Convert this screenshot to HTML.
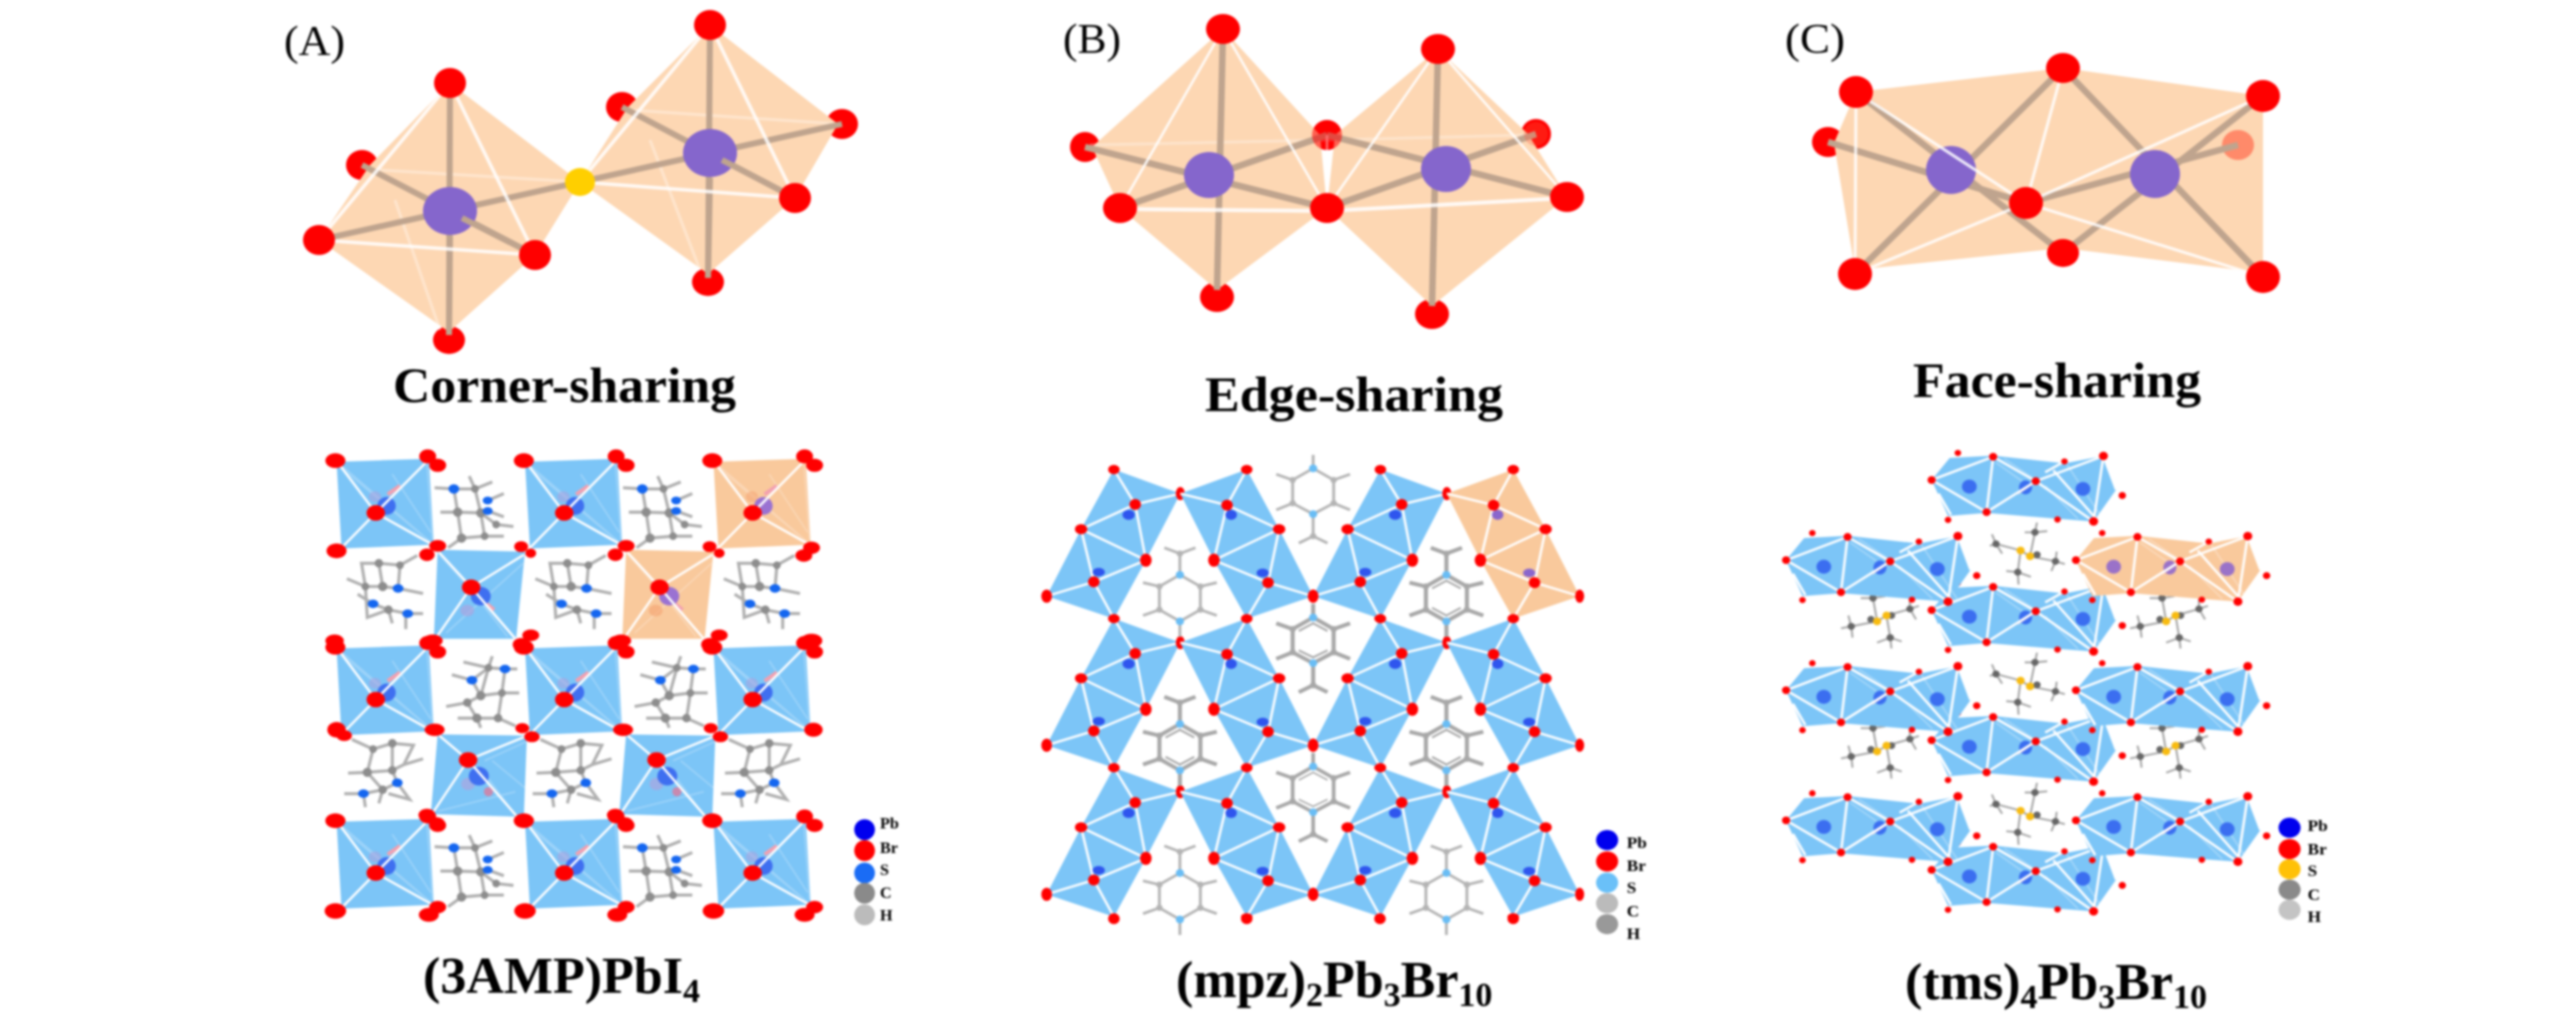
<!DOCTYPE html>
<html><head><meta charset="utf-8">
<style>
html,body{margin:0;padding:0;background:#fff;width:2567px;height:1024px;overflow:hidden}
svg{display:block;filter:blur(1px)}
text{font-family:"Liberation Serif",serif;fill:#000}
.l{font-weight:bold;font-size:50px}
.f{font-weight:bold;font-size:52px}
.p{font-size:42px}
.k{font-weight:bold;font-size:42px}
</style></head><body>
<svg xmlns="http://www.w3.org/2000/svg" width="2567" height="1024" viewBox="0 0 2567 1024">
<defs>
<g id="ua1">
<polygon points="95,108 335,100 348,322 108,332" fill="currentColor"/>
<path d="M105,115 L345,320 M115,130 L320,300 M330,110 L345,310 M240,140 L340,290" stroke="#fff" stroke-opacity=".25" stroke-width="4" fill="none"/>
<ellipse cx="195" cy="198" rx="16" ry="14" fill="var(--a,#a9a5e0)" opacity=".6"/>
<path d="M228,192 L260,170" stroke="#f2a0b0" stroke-width="10"/>
<ellipse cx="225" cy="222" rx="24" ry="23" fill="var(--b,#3f6ff0)"/>
<path d="M100,112 L197,240 L332,105 M197,240 L345,322 M197,240 L108,330" stroke="#fff" stroke-width="6" fill="none"/>
<ellipse cx="197" cy="240" rx="24" ry="20" fill="#f00"/>
<ellipse cx="92" cy="105" rx="26" ry="19" fill="#f00"/>
<ellipse cx="332" cy="94" rx="22" ry="18" fill="#f00"/><ellipse cx="358" cy="117" rx="22" ry="17" fill="#f00"/>
</g>
<g id="ua2">
<polygon points="358,335 585,340 562,565 348,565" fill="currentColor"/>
<path d="M360,345 L555,560 M380,550 L580,370 M470,470 L540,560" stroke="#fff" stroke-opacity=".25" stroke-width="4" fill="none"/>
<ellipse cx="435" cy="492" rx="18" ry="15" fill="var(--a,#a9a5e0)" opacity=".7"/>
<path d="M470,462 L505,490" stroke="#f2a0b0" stroke-width="9"/>
<ellipse cx="470" cy="455" rx="26" ry="24" fill="var(--b,#3f6ff0)"/>
<path d="M360,340 L445,432 L582,348 M445,432 L560,565 M445,432 L352,565" stroke="#fff" stroke-width="6" fill="none"/>
<ellipse cx="445" cy="432" rx="24" ry="20" fill="#f00"/>
<ellipse cx="575" cy="327" rx="18" ry="14" fill="#f00"/><ellipse cx="600" cy="344" rx="14" ry="12" fill="#f00"/>
<ellipse cx="358" cy="325" rx="22" ry="15" fill="#f00"/><ellipse cx="330" cy="348" rx="20" ry="16" fill="#f00"/>
<ellipse cx="345" cy="570" rx="26" ry="16" fill="#f00"/>
<ellipse cx="600" cy="556" rx="22" ry="15" fill="#f00"/><ellipse cx="575" cy="580" rx="22" ry="17" fill="#f00"/>
</g>
<g id="ua4">
<polygon points="358,812 590,815 582,1025 340,1018" fill="currentColor"/>
<path d="M470,900 L560,1020 M480,880 L590,830 M360,1010 L560,960 M500,880 L585,950" stroke="#fff" stroke-opacity=".25" stroke-width="4" fill="none"/>
<ellipse cx="437" cy="940" rx="18" ry="16" fill="#a9a5e0" opacity=".7"/>
<ellipse cx="490" cy="960" rx="12" ry="12" fill="#e87090" opacity=".7"/>
<ellipse cx="465" cy="920" rx="26" ry="24" fill="#3f6ff0"/>
<path d="M362,815 L437,878 L585,818 M437,878 L565,1025 M437,878 L345,1015" stroke="#fff" stroke-width="6" fill="none"/>
<ellipse cx="437" cy="878" rx="24" ry="20" fill="#f00"/>
<ellipse cx="350" cy="800" rx="26" ry="16" fill="#f00"/>
<ellipse cx="578" cy="796" rx="18" ry="13" fill="#f00"/><ellipse cx="603" cy="818" rx="20" ry="14" fill="#f00"/>
<ellipse cx="330" cy="1020" rx="22" ry="16" fill="#f00"/><ellipse cx="355" cy="1042" rx="22" ry="16" fill="#f00"/>
<ellipse cx="582" cy="1035" rx="26" ry="18" fill="#f00"/>
</g>
<g id="ma1" stroke="#b0b0b0" stroke-width="8" fill="none">
<path d="M350,175 L400,178 L455,178 L500,160 M455,178 L440,145 M400,178 L410,238 L470,240 L510,270 L555,275 M365,238 L410,238 L420,305 L480,300 L530,300 M470,240 L455,178 M470,240 L480,300 M420,305 L385,330 M488,208 L530,190 M488,235 L530,250"/>
<g fill="#8d8d8d" stroke="none"><circle cx="455" cy="178" r="10"/><circle cx="410" cy="238" r="12"/><circle cx="470" cy="240" r="12"/><circle cx="510" cy="270" r="10"/><circle cx="420" cy="305" r="12"/><circle cx="480" cy="300" r="10"/></g>
<g fill="#1466f0" stroke="none"><ellipse cx="400" cy="178" rx="14" ry="12"/><ellipse cx="488" cy="208" rx="13" ry="10"/><ellipse cx="488" cy="235" rx="13" ry="10"/></g>
</g>
<g id="ma2" stroke="#b0b0b0" stroke-width="8" fill="none">
<path d="M122,410 L170,430 L160,370 L205,370 L260,375 L305,350 M205,370 L215,430 L170,430 L175,510 L230,490 L280,500 L320,500 M260,375 L255,435 L320,448 M215,430 L255,435 M230,490 L190,475 L150,450 M230,490 L240,525 M275,500 L275,540"/>
<g fill="#8d8d8d" stroke="none"><circle cx="205" cy="370" r="11"/><circle cx="260" cy="375" r="10"/><circle cx="215" cy="430" r="12"/><circle cx="170" cy="430" r="10"/><circle cx="230" cy="490" r="11"/></g>
<g fill="#1466f0" stroke="none"><ellipse cx="255" cy="435" rx="14" ry="11"/><ellipse cx="190" cy="475" rx="14" ry="11"/><ellipse cx="280" cy="500" rx="14" ry="11"/></g>
</g>
<g id="ma3" stroke="#b0b0b0" stroke-width="8" fill="none">
<path d="M425,625 L490,640 L533,643 L565,643 M395,658 L447,672 L490,640 L470,712 L435,730 L380,740 M447,672 L470,712 L525,705 L570,705 M490,640 L500,610 M525,705 L515,770 L460,770 L410,770 M435,730 L460,770 L470,795 M515,770 L560,790 M533,643 L525,705"/>
<g fill="#8d8d8d" stroke="none"><circle cx="490" cy="640" r="10"/><circle cx="470" cy="712" r="12"/><circle cx="525" cy="705" r="10"/><circle cx="435" cy="730" r="11"/><circle cx="460" cy="770" r="12"/><circle cx="515" cy="770" r="11"/></g>
<g fill="#1466f0" stroke="none"><ellipse cx="533" cy="643" rx="14" ry="11"/><ellipse cx="447" cy="672" rx="14" ry="11"/></g>
</g>
<g id="ma4" stroke="#b0b0b0" stroke-width="8" fill="none">
<path d="M135,825 L190,850 L240,835 L295,840 L270,890 L320,875 M190,850 L175,910 L125,912 M175,910 L240,905 L270,890 M240,835 L240,905 L253,937 L215,955 L165,965 L115,965 M175,910 L215,955 L205,990 M253,937 L285,980 L230,965 M165,965 L170,1000"/>
<g fill="#8d8d8d" stroke="none"><circle cx="190" cy="850" r="10"/><circle cx="240" cy="835" r="11"/><circle cx="175" cy="910" r="12"/><circle cx="240" cy="905" r="11"/><circle cx="215" cy="955" r="11"/></g>
<g fill="#1466f0" stroke="none"><ellipse cx="253" cy="937" rx="14" ry="11"/><ellipse cx="165" cy="965" rx="14" ry="11"/></g>
</g>

<g id="bl">
<polygon points="229,128 391,190 307,362 229,513 65,455 149,282" fill="currentColor"/>
<path d="M229,128 L281,218 L391,190 M149,282 L281,218 L307,362 M149,282 L307,362 M149,282 L180,418 L307,362 M65,455 L180,418 L229,513" stroke="#fff" stroke-width="6" fill="none"/>
<ellipse cx="265" cy="245" rx="15" ry="13" fill="var(--b,#2f55ee)"/><ellipse cx="192" cy="393" rx="15" ry="11" fill="var(--b,#2f55ee)"/>
<g fill="#f00"><ellipse cx="229" cy="128" rx="14" ry="12"/><ellipse cx="281" cy="218" rx="14" ry="14"/><ellipse cx="149" cy="282" rx="15" ry="13"/><ellipse cx="307" cy="362" rx="14" ry="17"/><ellipse cx="180" cy="418" rx="14" ry="14"/><ellipse cx="65" cy="455" rx="13" ry="17"/><ellipse cx="391" cy="190" rx="11" ry="17"/></g>
</g>
<g id="br">
<polygon points="553,128 632,282 715,455 553,513 473,362 391,190" fill="currentColor"/>
<path d="M553,128 L505,220 L391,190 M632,282 L505,220 L473,362 M632,282 L473,362 M632,282 L605,420 L473,362 M715,455 L605,420 L553,513" stroke="#fff" stroke-width="6" fill="none"/>
<ellipse cx="515" cy="245" rx="14" ry="13" fill="var(--b,#2f55ee)"/><ellipse cx="592" cy="395" rx="15" ry="11" fill="var(--b,#2f55ee)"/>
<g fill="#f00"><ellipse cx="553" cy="128" rx="14" ry="12"/><ellipse cx="505" cy="220" rx="14" ry="14"/><ellipse cx="632" cy="282" rx="15" ry="13"/><ellipse cx="473" cy="362" rx="14" ry="17"/><ellipse cx="605" cy="420" rx="14" ry="14"/><ellipse cx="715" cy="455" rx="11" ry="17"/><ellipse cx="553" cy="513" rx="14" ry="9"/></g>
</g>
<g id="pu">
<path d="M715,125 L765,155 L765,215 L715,243 L665,215 L665,155 Z M715,125 L715,90 M765,155 L805,140 M665,155 L625,140 M765,215 L805,232 M665,215 L625,232 M715,243 L715,300 L680,318 M715,300 L750,318" fill="none" stroke="currentColor" stroke-width="var(--w,7)"/>
<path d="M680,160 L715,140 L750,160 M680,210 L715,228 L750,210" fill="none" stroke="currentColor" stroke-width="var(--i,0)"/>
<g fill="currentColor"><circle cx="765" cy="155" r="8"/><circle cx="765" cy="215" r="8"/><circle cx="665" cy="215" r="8"/><circle cx="665" cy="155" r="8"/><circle cx="715" cy="300" r="8"/></g>
<circle cx="715" cy="125" r="10" fill="#69bdf5"/><circle cx="715" cy="243" r="10" fill="#69bdf5"/>
</g>
<g id="pd">
<path d="M390,520 L440,490 L440,430 L390,400 L340,430 L340,490 Z M390,520 L390,560 M440,490 L480,505 M340,490 L300,505 M440,430 L480,420 M340,430 L300,420 M390,400 L390,345 L352,330 M390,345 L428,330" fill="none" stroke="currentColor" stroke-width="var(--w,7)"/>
<path d="M355,485 L390,505 L425,485 M355,435 L390,415 L425,435" fill="none" stroke="currentColor" stroke-width="var(--i,0)"/>
<g fill="currentColor"><circle cx="440" cy="490" r="8"/><circle cx="440" cy="430" r="8"/><circle cx="340" cy="430" r="8"/><circle cx="340" cy="490" r="8"/><circle cx="390" cy="345" r="8"/></g>
<circle cx="390" cy="400" r="10" fill="#69bdf5"/><circle cx="390" cy="520" r="10" fill="#69bdf5"/>
</g>

<g id="tr">
<polygon points="443,155 487,98 593,92 767,112 862,93 893,180 838,262 750,255 577,240 483,248" fill="currentColor"/>
<path d="M600,110 L680,170 M620,100 L690,150 M720,170 L800,255 M770,110 L860,255" stroke="#fff" stroke-opacity=".3" stroke-width="4" fill="none"/>
<circle cx="535" cy="172" r="18" fill="var(--b,#3b6ef0)"/>
<ellipse cx="672" cy="174" rx="16" ry="18" fill="var(--b,#3b6ef0)"/>
<circle cx="812" cy="178" r="18" fill="var(--b,#3b6ef0)"/>
<path d="M652,190 L697,158" stroke="#f5d0dc" stroke-width="6"/>
<path d="M443,155 L593,95 L577,238 L443,155 M460,190 L490,245 M593,95 L697,158 L577,238 M697,158 L838,262 M697,158 L862,93 L838,262 M720,135 L767,107 M862,93 L893,180 M740,130 L850,262" stroke="#fff" stroke-width="6" fill="none"/>
<g fill="#f00"><circle cx="443" cy="155" r="10"/><circle cx="507" cy="85" r="8"/><circle cx="593" cy="95" r="10"/><circle cx="577" cy="238" r="10"/><circle cx="483" cy="258" r="8"/><circle cx="697" cy="158" r="10"/><circle cx="767" cy="107" r="8"/><circle cx="862" cy="93" r="11"/><circle cx="908" cy="195" r="9"/><circle cx="750" cy="257" r="8"/><circle cx="838" cy="262" r="11"/></g>
</g>
<g id="t1">
<path d="M585,325 L600,320 L660,337 L683,352 L745,365 L768,372 M660,337 L653,393 M683,352 L695,290 M600,320 L590,295 M600,320 L615,345 M745,365 L735,390 M745,365 L748,340 M653,393 L625,390 M653,393 L685,405 M653,393 L655,425 M695,290 L670,290 M695,290 L725,287 M695,290 L700,265" stroke="#a8a8a8" stroke-width="5" fill="none"/>
<g fill="#666"><circle cx="600" cy="320" r="9"/><circle cx="700" cy="348" r="9"/><circle cx="745" cy="365" r="9"/><circle cx="653" cy="393" r="9"/><circle cx="695" cy="290" r="9"/></g>
<g fill="#f8bb10"><circle cx="660" cy="337" r="10"/><circle cx="683" cy="352" r="10"/></g>
</g>
<g id="t2">
<path d="M222,538 L247,533 L310,520 L333,505 L390,488 L412,480 M310,520 L300,460 M333,505 L342,562 M247,533 L240,505 M247,533 L250,562 M390,488 L390,462 M390,488 L405,515 M300,460 L270,460 M300,460 L330,455 M300,460 L305,435 M342,562 L310,575 M342,562 L370,572 M342,562 L345,590" stroke="#a8a8a8" stroke-width="5" fill="none"/>
<g fill="#666"><circle cx="247" cy="533" r="9"/><circle cx="295" cy="515" r="9"/><circle cx="345" cy="505" r="9"/><circle cx="390" cy="488" r="9"/><circle cx="300" cy="460" r="9"/><circle cx="342" cy="562" r="9"/></g>
<g fill="#f8bb10"><circle cx="310" cy="520" r="10"/><circle cx="333" cy="505" r="10"/></g>
</g>
</defs>
<rect width="2567" height="1024" fill="#fff"/>

<!-- Panel A top -->
<text class="p" x="284" y="55" textLength="61" lengthAdjust="spacingAndGlyphs">(A)</text>
<g>
<ellipse cx="362" cy="165" rx="16" ry="15" fill="#f00"/>
<ellipse cx="622" cy="107" rx="16" ry="15" fill="#f00"/>
<ellipse cx="842" cy="124" rx="16" ry="15" fill="#f00"/>
<ellipse cx="449" cy="340" rx="16" ry="14" fill="#f00"/>
<ellipse cx="708" cy="282" rx="16" ry="14" fill="#f00"/>
<polygon points="450,83 580,182 535,255 449,332 319,240 370,165" fill="#fdd7b3"/>
<polygon points="710,25 838,124 795,198 708,274 580,182 628,107" fill="#fdd7b3"/>
<path d="M380,170 L580,182 M630,110 L840,124 M395,200 L440,330 M650,140 L700,270" stroke="#fff" stroke-opacity=".35" stroke-width="3"/>
<path d="M450,83 L449,335 M319,240 L580,182 M362,165 L535,255 M710,25 L708,278 M580,182 L842,124 M622,107 L795,198" stroke="#bfa48e" stroke-width="6" fill="none"/>
<ellipse cx="450" cy="211" rx="27" ry="24" fill="#8566cc"/>
<ellipse cx="710" cy="153" rx="27" ry="24" fill="#8566cc"/>
<path d="M450,236 L449,335 M535,255 L462,218 M710,178 L708,278 M795,198 L722,160" stroke="#bfa48e" stroke-width="6" fill="none"/>
<path d="M450,83 L319,240 L535,255 Z M450,83 L535,255 M710,25 L580,182 L795,198 Z" stroke="#fff" stroke-opacity=".85" stroke-width="3.5" fill="none"/>
<ellipse cx="450" cy="83" rx="16" ry="15" fill="#f00"/><ellipse cx="319" cy="240" rx="16" ry="15" fill="#f00"/><ellipse cx="535" cy="255" rx="16" ry="15" fill="#f00"/>
<ellipse cx="710" cy="25" rx="16" ry="15" fill="#f00"/><ellipse cx="795" cy="198" rx="16" ry="15" fill="#f00"/>
<ellipse cx="580" cy="182" rx="15" ry="14" fill="#ffcf00"/>
</g>
<text class="l" x="393" y="402" textLength="343" lengthAdjust="spacingAndGlyphs">Corner-sharing</text>

<!-- Panel B top -->
<text class="p" x="1063" y="53" textLength="58" lengthAdjust="spacingAndGlyphs">(B)</text>
<g>
<ellipse cx="1085" cy="147" rx="15" ry="15" fill="#f00"/>
<ellipse cx="1327" cy="135" rx="15" ry="15" fill="#f00"/>
<ellipse cx="1536" cy="134" rx="15" ry="15" fill="#f00"/>
<ellipse cx="1217" cy="297" rx="17" ry="15" fill="#f00"/>
<ellipse cx="1432" cy="314" rx="17" ry="15" fill="#f00"/>
<polygon points="1223,29 1320,135 1327,208 1217,290 1120,208 1092,147" fill="#fdd7b3"/>
<polygon points="1438,49 1528,134 1567,197 1432,306 1327,208 1335,135" fill="#fdd7b3"/>
<path d="M1090,145 L1330,140 M1330,140 L1530,135" stroke="#fff" stroke-opacity=".3" stroke-width="3"/>
<path d="M1223,29 L1217,290 M1085,147 L1327,208 M1120,208 L1327,135 M1438,49 L1432,306 M1327,135 L1567,197 M1327,208 L1536,134" stroke="#bfa48e" stroke-width="6.5" fill="none"/>
<ellipse cx="1209" cy="175" rx="25" ry="23" fill="#8566cc"/>
<ellipse cx="1446" cy="169" rx="25" ry="23" fill="#8566cc"/>
<path d="M1223,29 L1120,208 M1223,29 L1327,208 M1438,49 L1327,208 M1438,49 L1567,197 M1327,135 L1327,208" stroke="#fff" stroke-opacity=".9" stroke-width="2.5" fill="none"/>
<path d="M1120,209 L1327,211 L1567,198" stroke="#fff" stroke-opacity=".85" stroke-width="4" fill="none"/>
<ellipse cx="1223" cy="29" rx="17" ry="15" fill="#f00"/><ellipse cx="1120" cy="208" rx="17" ry="15" fill="#f00"/><ellipse cx="1327" cy="208" rx="17" ry="15" fill="#f00"/>
<ellipse cx="1438" cy="49" rx="17" ry="15" fill="#f00"/><ellipse cx="1567" cy="197" rx="17" ry="15" fill="#f00"/>
<ellipse cx="1327" cy="135" rx="15" ry="15" fill="#f00" opacity=".55"/>
<ellipse cx="1536" cy="134" rx="12" ry="12" fill="#ff5a3a" opacity=".3"/>
</g>
<text class="l" x="1205" y="411" textLength="298" lengthAdjust="spacingAndGlyphs">Edge-sharing</text>

<!-- Panel C top -->
<text class="p" x="1785" y="53" textLength="60" lengthAdjust="spacingAndGlyphs">(C)</text>
<g>
<ellipse cx="1828" cy="142" rx="16" ry="15" fill="#f00"/>
<polygon points="1856,92 2063,68 2263,96 2263,273 2063,248 1855,270 1834,143" fill="#fdd7b3"/>
<ellipse cx="2238" cy="145" rx="16" ry="15" fill="#ff8a6a"/>
<path d="M1856,92 L2063,253 M2063,68 L1855,274 M1828,142 L2026,203 M2063,68 L2263,277 M2263,96 L2063,253 M2026,203 L2238,145" stroke="#bfa48e" stroke-width="6.5" fill="none"/>
<ellipse cx="1951" cy="170" rx="25" ry="24" fill="#8566cc"/>
<ellipse cx="2155" cy="174" rx="25" ry="24" fill="#8566cc"/>
<path d="M1856,92 L1855,274 M1856,92 L2026,203 M2063,68 L2026,203 M2263,96 L2026,203 M1855,274 L2026,203 M2026,203 L2263,277" stroke="#fff" stroke-opacity=".85" stroke-width="3" fill="none"/>
<ellipse cx="2063" cy="253" rx="16" ry="14" fill="#f00"/>
<ellipse cx="1856" cy="92" rx="17" ry="16" fill="#f00"/><ellipse cx="1855" cy="274" rx="17" ry="16" fill="#f00"/><ellipse cx="2063" cy="68" rx="17" ry="15" fill="#f00"/><ellipse cx="2026" cy="203" rx="17" ry="16" fill="#f00"/><ellipse cx="2263" cy="96" rx="17" ry="16" fill="#f00"/><ellipse cx="2263" cy="277" rx="17" ry="16" fill="#f00"/>
</g>
<text class="l" x="1913" y="397" textLength="288" lengthAdjust="spacingAndGlyphs">Face-sharing</text>

<!-- Panel A bottom -->
<g transform="translate(300,420) scale(.3846,.3872)" color="#7cc5f7">
<use href="#ua1"/><use href="#ua1" x="490"/><use href="#ua1" x="980" style="color:#f9c99c;--a:#f5a878;--b:#9a72d2"/>
<use href="#ua2"/><use href="#ua2" x="490" style="color:#f9c99c;--a:#f5a878;--b:#9a72d2"/>
<use href="#ua1" y="482"/><use href="#ua1" x="490" y="482"/><use href="#ua1" x="980" y="482"/>
<use href="#ua4"/><use href="#ua4" x="490"/>
<use href="#ua1" y="930"/><use href="#ua1" x="490" y="930"/><use href="#ua1" x="980" y="930"/>
<g fill="#f00"><ellipse cx="95" cy="338" rx="26" ry="19"/><ellipse cx="90" cy="570" rx="24" ry="16"/><ellipse cx="95" cy="800" rx="24" ry="20"/><ellipse cx="115" cy="815" rx="20" ry="14"/><ellipse cx="1330" cy="330" rx="22" ry="16"/><ellipse cx="1310" cy="350" rx="22" ry="16"/><ellipse cx="1330" cy="570" rx="28" ry="18"/><ellipse cx="1335" cy="800" rx="24" ry="18"/><ellipse cx="92" cy="1268" rx="28" ry="20"/><ellipse cx="585" cy="1268" rx="28" ry="20"/><ellipse cx="1075" cy="1268" rx="28" ry="20"/><ellipse cx="335" cy="1278" rx="26" ry="18"/><ellipse cx="358" cy="1258" rx="22" ry="16"/><ellipse cx="825" cy="1278" rx="26" ry="18"/><ellipse cx="848" cy="1258" rx="22" ry="16"/><ellipse cx="1312" cy="1278" rx="26" ry="18"/><ellipse cx="1338" cy="1258" rx="22" ry="16"/><ellipse cx="92" cy="1035" rx="26" ry="18"/><ellipse cx="582" cy="1035" rx="26" ry="18"/><ellipse cx="1072" cy="1035" rx="26" ry="18"/></g>
<use href="#ma1"/><use href="#ma1" x="490"/><use href="#ma1" y="927"/><use href="#ma1" x="490" y="927"/>
<use href="#ma2"/><use href="#ma2" x="490"/><use href="#ma2" x="980"/>
<use href="#ma3"/><use href="#ma3" x="490"/>
<use href="#ma4"/><use href="#ma4" x="490"/><use href="#ma4" x="980"/>
<circle cx="1468" cy="1058" r="27" fill="#0000ee"/><circle cx="1468" cy="1112" r="27" fill="#f00"/><circle cx="1468" cy="1170" r="27" fill="#1a6cf5"/><circle cx="1468" cy="1222" r="27" fill="#8a8a8a"/><circle cx="1468" cy="1278" r="27" fill="#bbb"/>
<text class="k" x="1508" y="1055">Pb</text><text class="k" x="1508" y="1118">Br</text><text class="k" x="1508" y="1175">S</text><text class="k" x="1508" y="1235">C</text><text class="k" x="1508" y="1292">H</text>
</g>
<text class="f" x="423" y="993">(3AMP)PbI<tspan font-size="34" dy="9">4</tspan></text>

<!-- Panel B bottom -->
<g transform="translate(1020,420) scale(.41,.3872)" color="#7cc5f7">
<use href="#bl"/><use href="#br"/><use href="#bl" x="650"/><use href="#br" x="650" style="color:#f9c99c;--b:#8a66cc"/>
<use href="#bl" y="385"/><use href="#br" y="385"/><use href="#bl" x="650" y="385"/><use href="#br" x="650" y="385"/>
<use href="#bl" y="770"/><use href="#br" y="770"/><use href="#bl" x="650" y="770"/><use href="#br" x="650" y="770"/>
<g fill="#f00"><ellipse cx="229" cy="513" rx="14" ry="9"/><ellipse cx="229" cy="898" rx="14" ry="9"/><ellipse cx="878" cy="513" rx="14" ry="9"/><ellipse cx="878" cy="898" rx="14" ry="9"/><ellipse cx="229" cy="1288" rx="14" ry="14"/><ellipse cx="553" cy="1288" rx="14" ry="14"/><ellipse cx="878" cy="1288" rx="14" ry="14"/><ellipse cx="1203" cy="1288" rx="14" ry="14"/></g>
<use href="#pu" color="#b4b4b4"/><use href="#pu" y="385" color="#a8a8a8" style="--w:10;--i:5"/><use href="#pu" y="770" color="#a8a8a8" style="--w:9;--i:4"/>
<use href="#pd" color="#b4b4b4"/><use href="#pd" y="385" color="#a8a8a8" style="--w:10;--i:5"/><use href="#pd" y="770" color="#b4b4b4"/>
<use href="#pd" x="650" color="#a8a8a8" style="--w:10;--i:5"/><use href="#pd" x="650" y="385" color="#a8a8a8" style="--w:10;--i:5"/><use href="#pd" x="650" y="770" color="#b4b4b4"/>
<ellipse cx="1432" cy="1085" rx="27" ry="26" fill="#0000ee"/><ellipse cx="1432" cy="1140" rx="27" ry="26" fill="#f00"/><ellipse cx="1432" cy="1195" rx="27" ry="26" fill="#6ac0f8"/><ellipse cx="1432" cy="1248" rx="27" ry="26" fill="#bbb"/><ellipse cx="1432" cy="1302" rx="27" ry="26" fill="#999"/>
<text class="k" x="1480" y="1105">Pb</text><text class="k" x="1480" y="1165">Br</text><text class="k" x="1480" y="1222">S</text><text class="k" x="1480" y="1282">C</text><text class="k" x="1480" y="1340">H</text>
</g>
<text class="f" x="1176" y="997">(mpz)<tspan font-size="34" dy="9">2</tspan><tspan dy="-9">Pb</tspan><tspan font-size="34" dy="9">3</tspan><tspan dy="-9">Br</tspan><tspan font-size="34" dy="9">10</tspan></text>

<!-- Panel C bottom -->
<g transform="translate(1750,420) scale(.41,.3872)" color="#7cc5f7">
<use href="#t1"/><use href="#t1" y="336"/><use href="#t1" y="672"/>
<use href="#t2"/><use href="#t2" y="336"/><use href="#t2" x="705"/><use href="#t2" x="705" y="336"/>
<use href="#tr"/><use href="#tr" y="336"/><use href="#tr" y="672"/><use href="#tr" y="1007"/>
<use href="#tr" x="-355" y="207"/><use href="#tr" x="-355" y="543"/><use href="#tr" x="-355" y="879"/>
<use href="#tr" x="352" y="207" style="color:#f9c99c;--b:#9a72c8"/><use href="#tr" x="352" y="543"/><use href="#tr" x="352" y="879"/>
<ellipse cx="1316" cy="1053" rx="27" ry="26" fill="#0000ee"/><ellipse cx="1316" cy="1108" rx="27" ry="26" fill="#f00"/><ellipse cx="1316" cy="1160" rx="27" ry="26" fill="#ffc107"/><ellipse cx="1316" cy="1213" rx="27" ry="26" fill="#8a8a8a"/><ellipse cx="1316" cy="1265" rx="27" ry="26" fill="#c4c4c4"/>
<text class="k" x="1360" y="1062">Pb</text><text class="k" x="1360" y="1122">Br</text><text class="k" x="1360" y="1178">S</text><text class="k" x="1360" y="1240">C</text><text class="k" x="1360" y="1297">H</text>
</g>
<text class="f" x="1905" y="999">(tms)<tspan font-size="34" dy="9">4</tspan><tspan dy="-9">Pb</tspan><tspan font-size="34" dy="9">3</tspan><tspan dy="-9">Br</tspan><tspan font-size="34" dy="9">10</tspan></text>
</svg>
</body></html>
